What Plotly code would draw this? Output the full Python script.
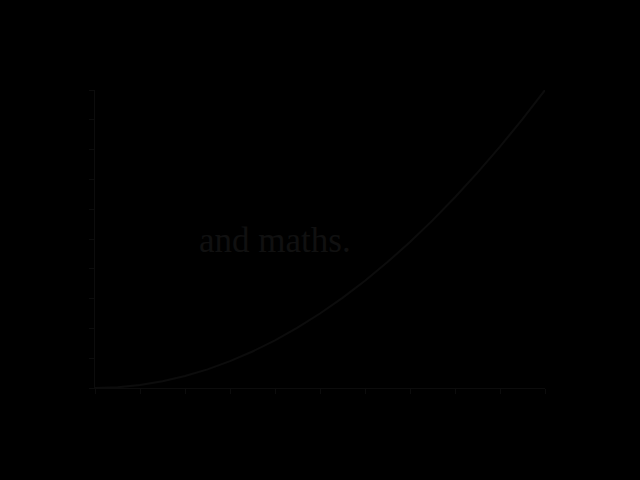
import plotly.graph_objects as go

x_vals = [0, 0.5, 1, 1.5, 2, 2.5, 3, 3.5, 4, 4.5, 5, 5.5, 6, 6.5, 7, 7.5, 8, 8.5, 9, 9.5, 10]
y_vals = [0, 0.25, 1, 2.25, 4, 6.25, 9, 12.25, 16, 20.25, 25, 30.25, 36, 42.25, 49, 56.25, 64, 72.25, 81, 90.25, 100]
x_ticks = [0, 1, 2, 3, 4, 5, 6, 7, 8, 9, 10]
y_ticks = [0, 10, 20, 30, 40, 50, 60, 70, 80, 90, 100]
annotation_text = "and maths."

line_col = "#0c0c0c"

fig = go.Figure()
fig.add_trace(go.Scatter(x=x_vals, y=y_vals, mode="lines",
                         line=dict(color=line_col, width=2), showlegend=False))

fig.add_annotation(x=4.0, y=49.5, text=annotation_text, showarrow=False,
                   font=dict(family="Liberation Serif", size=35, color="#101010"))

fig.update_layout(
    width=640, height=480,
    paper_bgcolor="black", plot_bgcolor="black",
    margin=dict(l=95, r=95, t=90, b=92),
    xaxis=dict(range=[0, 10], tickvals=x_ticks, showgrid=False, zeroline=False,
               showline=True, linecolor=line_col, linewidth=1,
               ticks="outside", ticklen=5, tickcolor=line_col,
               tickfont=dict(color="black")),
    yaxis=dict(range=[0, 100], tickvals=y_ticks, showgrid=False, zeroline=False,
               showline=True, linecolor=line_col, linewidth=1,
               ticks="outside", ticklen=5, tickcolor=line_col,
               tickfont=dict(color="black")),
)

fig.write_html("out.html", config={"displayModeBar": False},
               post_script="document.body.style.margin='0';document.body.style.background='black';")
